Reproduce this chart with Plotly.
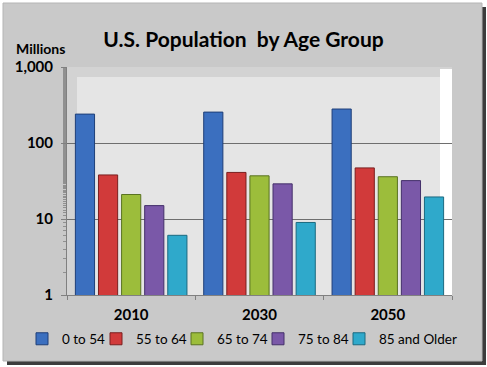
import plotly.graph_objects as go

years = ["2010", "2030", "2050"]
series_names = ["0 to 54", "55 to 64", "65 to 74", "75 to 84", "85 and Older"]
values_0_54 = [240, 255, 280]
values_55_64 = [38, 41, 47]
values_65_74 = [21, 37, 36]
values_75_84 = [15, 29, 32]
values_85_plus = [6.1, 9, 19.5]
tick_vals = [1, 10, 100, 1000]
tick_text = ["1", "10", "100", "1,000"]

all_values = [values_0_54, values_55_64, values_65_74, values_75_84, values_85_plus]
colors = ["#3b6fbf", "#d13a3a", "#9cbd3b", "#7a58a8", "#2fa9cb"]
edges = ["#1f3f78", "#7a1f1f", "#5a7322", "#44306a", "#1b6a80"]
legend_swatch_px = [42, 116, 197, 278, 359]

FONT = "Lato"
W, H = 487, 367
L, R, T, B = 67, 35, 67, 72
pw, ph = W - L - R, H - T - B

fig = go.Figure()
legend_ids = ["legend"] + ["legend%d" % (i + 1) for i in range(1, len(series_names))]
for name, vals, c, e, lid in zip(series_names, all_values, colors, edges, legend_ids):
    fig.add_trace(go.Bar(
        x=years, y=vals, name=name, legend=lid,
        marker=dict(color=c, line=dict(color=e, width=1)),
    ))

def px_x(px):
    return (px - L) / pw

def px_y(py):
    return (H - B - py) / ph

def rect(x0, y0, x1, y1, fill, line=None):
    return dict(type="rect", xref="paper", yref="paper", layer="below",
                x0=px_x(x0), x1=px_x(x1), y0=px_y(y1), y1=px_y(y0),
                fillcolor=fill, line=line or dict(width=0))

shapes = [
    rect(7, 7, 486, 365, "#3c3c3c"),
    rect(3, 3, 482, 361, "#c9c9c9", dict(color="#b5b5b5", width=1)),
    rect(67, 67, 452, 295, "#d3d3d3"),
    rect(77, 77, 440, 295, "#e5e5e5"),
    rect(440, 69, 452, 295, "#ffffff"),
]

legends = {}
for lid, sx in zip(legend_ids, legend_swatch_px):
    legends[lid] = dict(orientation="h", x=(sx - 20) / W, xanchor="left", xref="container",
                        y=1 - 339 / H, yanchor="middle", yref="container",
                        font=dict(size=13.5, family=FONT, color="#000000"),
                        bgcolor="rgba(0,0,0,0)", itemwidth=30)

fig.update_layout(
    width=W, height=H,
    margin=dict(l=L, r=R, t=T, b=B, pad=0, autoexpand=False),
    paper_bgcolor="#ffffff",
    plot_bgcolor="#e5e5e5",
    barmode="group",
    bargap=0.1,
    bargroupgap=0.17,
    font=dict(family=FONT, color="#000000"),
    title=dict(text="<b>U.S. Population  by Age Group</b>", x=0.5, xanchor="center",
               xref="container", y=1 - 40 / H, yanchor="middle",
               font=dict(size=21, family=FONT, color="#000000")),
    showlegend=True,
    xaxis=dict(showgrid=False, ticks="outside", ticklen=4, tickcolor="#808080",
               tickson="boundaries",
               showline=True, linecolor="#808080", linewidth=1, automargin=False,
               ticklabelstandoff=6,
               tickfont=dict(size=15, family=FONT, color="#000000"),
               tickprefix="<b>", ticksuffix="</b>"),
    yaxis=dict(type="log", range=[0, 3], tickvals=tick_vals, ticktext=["<b>" + t + "</b>" for t in tick_text],
               showgrid=True, gridcolor="#6e6e6e", gridwidth=1, automargin=False,
               showline=True, linecolor="#808080", linewidth=1,
               ticks="outside", ticklen=5, tickcolor="#808080",
               minor=dict(ticks="outside", ticklen=3, tickcolor="#909090", showgrid=False),
               ticklabelstandoff=5,
               tickfont=dict(size=15, family=FONT, color="#000000"), zeroline=False),
    shapes=shapes,
    annotations=[dict(text="<b>Millions</b>", xref="paper", yref="paper",
                      x=px_x(40), y=px_y(49), xanchor="center", yanchor="middle",
                      showarrow=False, font=dict(size=14, family=FONT, color="#000000"))],
    **legends,
)

fig.write_html("out.html", config={"displayModeBar": False},
               post_script="document.body.style.margin='0';")
